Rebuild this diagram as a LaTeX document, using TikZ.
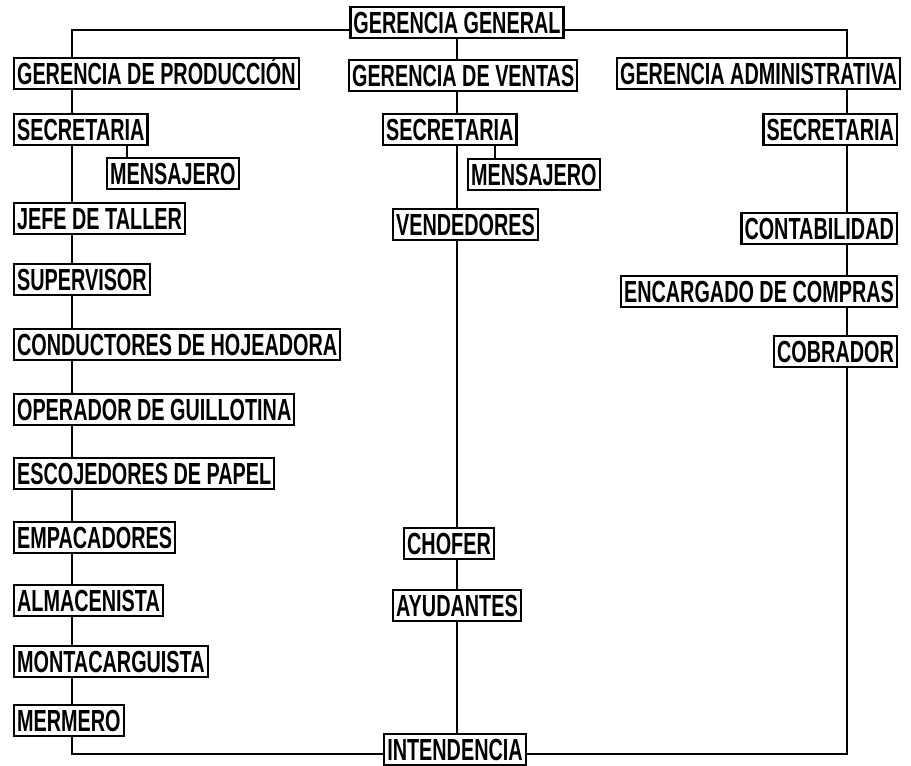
\documentclass[tikz,border=0pt]{standalone}
\usepackage{fontspec}
\setmainfont{Liberation Sans}[FakeStretch=0.65]

\begin{document}
\begin{tikzpicture}[x=1pt,y=-1pt,
  puesto/.style={draw,line width=2.2pt,fill=white,
    font=\bfseries\fontsize{30.5}{31}\selectfont,
    text height=22pt,text depth=0pt,inner xsep=3pt,inner ysep=4.5pt},
  linea/.style={line width=2pt}]
  \useasboundingbox (0,0) rectangle (911,766);
  \coordinate (izq) at (72,0);
  \coordinate (cen) at (457,0);
  \coordinate (der) at (847,0);

  \node[puesto,anchor=north] (gg) at (457,6) {GERENCIA GENERAL};
  \node[puesto,anchor=north west] (gp) at (13,57) {GERENCIA DE PRODUCCIÓN};
  \node[puesto,anchor=north west] (gv) at (348,59) {GERENCIA DE VENTAS};
  \node[puesto,anchor=north east] (ga) at (901,57) {GERENCIA ADMINISTRATIVA};

  \node[puesto,anchor=north west] (sec1) at (13,113) {SECRETARIA};
  \node[puesto,anchor=north west] (men1) at (106,157) {MENSAJERO};
  \node[puesto,anchor=north west] (jefe) at (13,202) {JEFE DE TALLER};
  \node[puesto,anchor=north west] (sup) at (13,263) {SUPERVISOR};
  \node[puesto,anchor=north west] (cond) at (13,328) {CONDUCTORES DE HOJEADORA};
  \node[puesto,anchor=north west] (oper) at (13,393) {OPERADOR DE GUILLOTINA};
  \node[puesto,anchor=north west] (esc) at (13,457) {ESCOJEDORES DE PAPEL};
  \node[puesto,anchor=north west] (emp) at (13,521) {EMPACADORES};
  \node[puesto,anchor=north west] (alm) at (13,584) {ALMACENISTA};
  \node[puesto,anchor=north west] (mon) at (13,645) {MONTACARGUISTA};
  \node[puesto,anchor=north west] (mer) at (13,704) {MERMERO};

  \node[puesto,anchor=north west] (sec2) at (382,113) {SECRETARIA};
  \node[puesto,anchor=north west] (men2) at (467,158) {MENSAJERO};
  \node[puesto,anchor=north west] (ven) at (392,208) {VENDEDORES};
  \node[puesto,anchor=north] (cho) at (449,527) {CHOFER};
  \node[puesto,anchor=north] (ayu) at (457,589) {AYUDANTES};

  \node[puesto,anchor=north east] (sec3) at (898,113) {SECRETARIA};
  \node[puesto,anchor=north east] (cont) at (898,212) {CONTABILIDAD};
  \node[puesto,anchor=north east] (enc) at (898,275) {ENCARGADO DE COMPRAS};
  \node[puesto,anchor=north east] (cob) at (898,335) {COBRADOR};

  \node[puesto,anchor=north] (int) at (455,733) {INTENDENCIA};

  \draw[linea] ([yshift=-7pt]gg.west) -| (gp.north -| izq);
  \draw[linea] ([yshift=-7pt]gg.east) -| (ga.north -| der);
  \draw[linea] (gg.south) -- (gv.north -| gg.south);

  \foreach \a/\b in {gp/sec1,sec1/jefe,jefe/sup,sup/cond,cond/oper,oper/esc,esc/emp,emp/alm,alm/mon,mon/mer}
    \draw[linea] (\a.south -| izq) -- (\b.north -| izq);
  \foreach \a/\b in {gv/sec2,sec2/ven,ven/cho,cho/ayu,ayu/int}
    \draw[linea] (\a.south -| cen) -- (\b.north -| cen);
  \foreach \a/\b in {ga/sec3,sec3/cont,cont/enc,enc/cob}
    \draw[linea] (\a.south -| der) -- (\b.north -| der);

  \draw[linea] ([xshift=21pt]men1.north west) -- ([xshift=21pt]men1.north west |- sec1.south);
  \draw[linea] ([xshift=28pt]men2.north west) -- ([xshift=28pt]men2.north west |- sec2.south);

  \draw[linea] (mer.south -| izq) |- ([yshift=-4pt]int.west);
  \draw[linea] ([yshift=-4pt]int.east) -| (cob.south -| der);
\end{tikzpicture}
\end{document}
